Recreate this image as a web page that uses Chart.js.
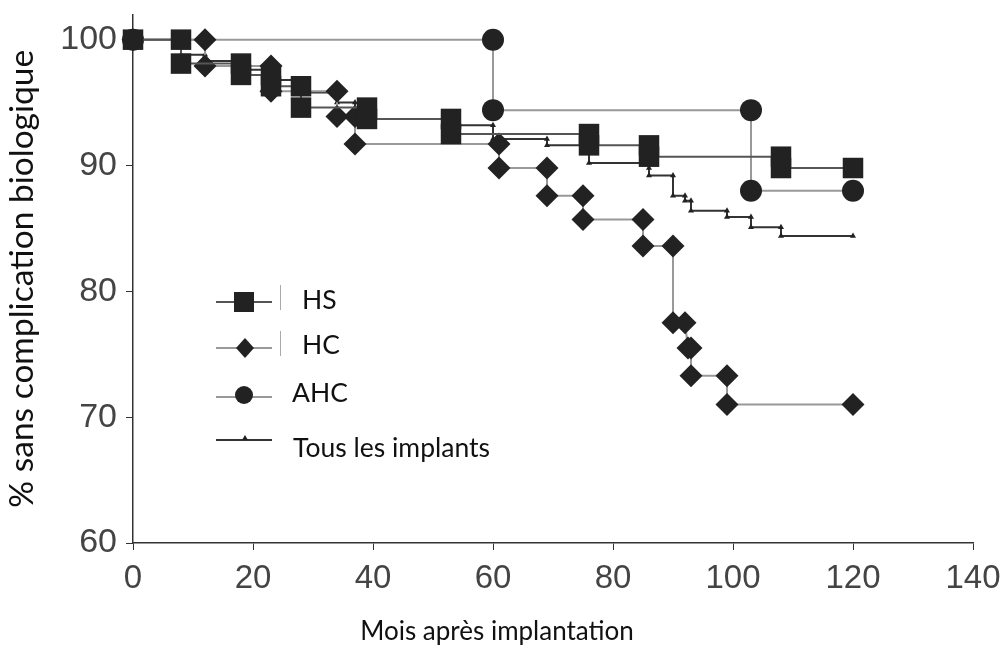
<!DOCTYPE html>
<html>
<head>
<meta charset="utf-8">
<script src="https://cdn.jsdelivr.net/npm/chart.js@4.4.1/dist/chart.umd.min.js"></script>
<style>
  html, body { margin: 0; padding: 0; background: #fff; }
  #wrap { width: 1006px; height: 645px; }
</style>
</head>
<body>
<div id="wrap"><canvas id="chart" width="1006" height="645"></canvas></div>
<script>
// Survival curves (Kaplan-Meier style), months vs % free of complication
const hsMonths = [0, 8, 8, 18, 18, 23, 23, 28, 28, 39, 39, 53, 53, 76, 76, 86, 86, 108, 108, 120];
const hsValues = [100, 100, 98.1, 98.1, 97.2, 97.2, 96.3, 96.3, 94.6, 94.6, 93.7, 93.7, 92.5, 92.5, 91.6, 91.6, 90.7, 90.7, 89.8, 89.8];

const hcMonths = [0, 12, 12, 23, 23, 34, 34, 37, 37, 61, 61, 69, 69, 75, 75, 85, 85, 90, 90, 92, 92.5, 93, 93, 99, 99, 120];
const hcValues = [100, 100, 97.9, 97.9, 95.9, 95.9, 93.9, 93.9, 91.7, 91.7, 89.8, 89.8, 87.6, 87.6, 85.7, 85.7, 83.6, 83.6, 77.5, 77.5, 75.5, 75.5, 73.3, 73.3, 71.0, 71.0];

const ahcMonths = [0, 60, 60, 103, 103, 120];
const ahcValues = [100, 100, 94.4, 94.4, 88.0, 88.0];

const allMonths = [0, 8, 8, 12, 12, 18, 18, 23, 23, 28, 28, 34, 34, 37, 37, 39, 39, 53, 53, 60, 60, 69, 69, 76, 76, 86, 86, 86, 90, 90, 92, 92, 93, 93, 99, 99, 103, 103, 108, 108, 120];
const allValues = [100, 100, 98.8, 98.8, 98.3, 98.3, 97.6, 97.6, 96.8, 96.8, 95.8, 95.8, 95.0, 95.0, 94.0, 94.0, 93.7, 93.7, 93.2, 93.2, 92.1, 92.1, 91.6, 91.6, 90.2, 90.2, 89.8, 89.2, 89.2, 87.6, 87.6, 87.2, 87.2, 86.4, 86.4, 85.9, 85.9, 85.1, 85.1, 84.4, 84.4];

const xTicks = [0, 20, 40, 60, 80, 100, 120, 140];
const yTicks = [60, 70, 80, 90, 100];

const legendLabels = ['HS', 'HC', 'AHC', 'Tous les implants'];
const xTitle = 'Mois après implantation';
const yTitle = '% sans complication biologique';

function pts(xs, ys) {
    return xs.map((x, i) => ({ x: x, y: ys[i] }));
}

const MARK = '#222';
const TEXT_FONT = 'Lato, "Open Sans", sans-serif';

// legend + x title drawn on the canvas at the spots used in the figure
const extraText = {
    id: 'extraText',
    afterDraw(chart) {
        const ctx = chart.ctx;
        ctx.save();
        ctx.fillStyle = '#111';
        ctx.font = '26px ' + TEXT_FONT;
        ctx.textAlign = 'center';
        ctx.textBaseline = 'middle';
        ctx.fillText(xTitle, 497, 632);

        const rows = [
            { y: 302, ty: 300, tx: 302, line: '#555', mark: 'rect', tick: true },
            { y: 348, ty: 345, tx: 302, line: '#999', mark: 'diamond', tick: true },
            { y: 397, ty: 393, tx: 292, line: '#999', mark: 'circle', tick: false },
            { y: 440, ty: 448, tx: 293, line: '#333', mark: 'triangle', tick: false }
        ];
        ctx.font = '26.5px ' + TEXT_FONT;
        rows.forEach((r, i) => {
            ctx.strokeStyle = r.line;
            ctx.lineWidth = 2;
            ctx.beginPath();
            ctx.moveTo(216, r.y);
            ctx.lineTo(272, r.y);
            ctx.stroke();
            ctx.fillStyle = MARK;
            ctx.beginPath();
            if (r.mark === 'rect') {
                ctx.rect(234, r.y - 10, 20, 20);
            } else if (r.mark === 'diamond') {
                ctx.moveTo(245, r.y - 10);
                ctx.lineTo(254, r.y);
                ctx.lineTo(245, r.y + 10);
                ctx.lineTo(236, r.y);
                ctx.closePath();
            } else if (r.mark === 'circle') {
                ctx.arc(244, r.y - 2, 9, 0, Math.PI * 2);
            } else {
                ctx.moveTo(245, r.y - 5);
                ctx.lineTo(248, r.y);
                ctx.lineTo(242, r.y);
                ctx.closePath();
            }
            ctx.fill();
            if (r.tick) {
                ctx.strokeStyle = '#aaa';
                ctx.lineWidth = 1;
                ctx.beginPath();
                ctx.moveTo(280.5, r.y - 17);
                ctx.lineTo(280.5, r.y + 8);
                ctx.stroke();
            }
            ctx.fillStyle = '#111';
            ctx.textAlign = 'left';
            ctx.fillText(legendLabels[i], r.tx, r.ty);
        });
        ctx.restore();
    }
};

const ctx = document.getElementById('chart').getContext('2d');
const chart = new Chart(ctx, {
    type: 'line',
    data: {
        datasets: [
            {
                label: legendLabels[0],
                data: pts(hsMonths, hsValues),
                borderColor: '#555',
                borderWidth: 2,
                pointStyle: 'rect',
                pointRadius: 14.5,
                pointBackgroundColor: MARK,
                pointBorderColor: MARK,
                pointBorderWidth: 0,
                clip: false
            },
            {
                label: legendLabels[1],
                data: pts(hcMonths, hcValues),
                borderColor: '#999',
                borderWidth: 2,
                pointStyle: 'rectRot',
                pointRadius: 11.5,
                pointBackgroundColor: MARK,
                pointBorderColor: MARK,
                pointBorderWidth: 0,
                clip: false
            },
            {
                label: legendLabels[2],
                data: pts(ahcMonths, ahcValues),
                borderColor: '#999',
                borderWidth: 2,
                pointStyle: 'circle',
                pointRadius: 11,
                pointBackgroundColor: MARK,
                pointBorderColor: MARK,
                pointBorderWidth: 0,
                clip: false
            },
            {
                label: legendLabels[3],
                data: pts(allMonths, allValues),
                borderColor: '#333',
                borderWidth: 2,
                pointStyle: 'triangle',
                pointRadius: 3.5,
                pointBackgroundColor: MARK,
                pointBorderColor: MARK,
                pointBorderWidth: 0,
                clip: false
            }
        ]
    },
    options: {
        responsive: false,
        animation: false,
        layout: { padding: 0 },
        plugins: {
            legend: { display: false },
            tooltip: { enabled: false }
        },
        elements: { line: { tension: 0 } },
        scales: {
            x: {
                type: 'linear',
                min: 0,
                max: 140,
                afterBuildTicks: (s) => { s.ticks = xTicks.map(v => ({ value: v })); },
                afterFit: (s) => { s.height = 102; s.paddingLeft = 0; s.paddingRight = 33; },
                grid: { drawOnChartArea: false, drawTicks: true, tickLength: 7, color: '#333', lineWidth: 1 },
                border: { display: true, color: '#333', width: 1.5 },
                ticks: {
                    color: '#444',
                    padding: 9,
                    maxRotation: 0,
                    font: { family: '"Liberation Sans", Arial, sans-serif', size: 33 }
                }
            },
            y: {
                type: 'linear',
                min: 60,
                max: 102,
                afterBuildTicks: (s) => { s.ticks = yTicks.map(v => ({ value: v })); },
                afterFit: (s) => { s.width = 133; s.paddingTop = 14; s.paddingBottom = 0; },
                grid: { drawOnChartArea: false, drawTicks: true, tickLength: 7, color: '#333', lineWidth: 1 },
                border: { display: true, color: '#333', width: 1.5 },
                ticks: {
                    color: '#444',
                    padding: 9,
                    font: { family: '"Liberation Sans", Arial, sans-serif', size: 34 }
                },
                title: {
                    display: true,
                    text: yTitle,
                    color: '#111',
                    padding: { top: 5, bottom: 0 },
                    font: { family: TEXT_FONT, size: 33.5, lineHeight: 1 }
                }
            }
        }
    },
    plugins: [extraText]
});
</script>
</body>
</html>
